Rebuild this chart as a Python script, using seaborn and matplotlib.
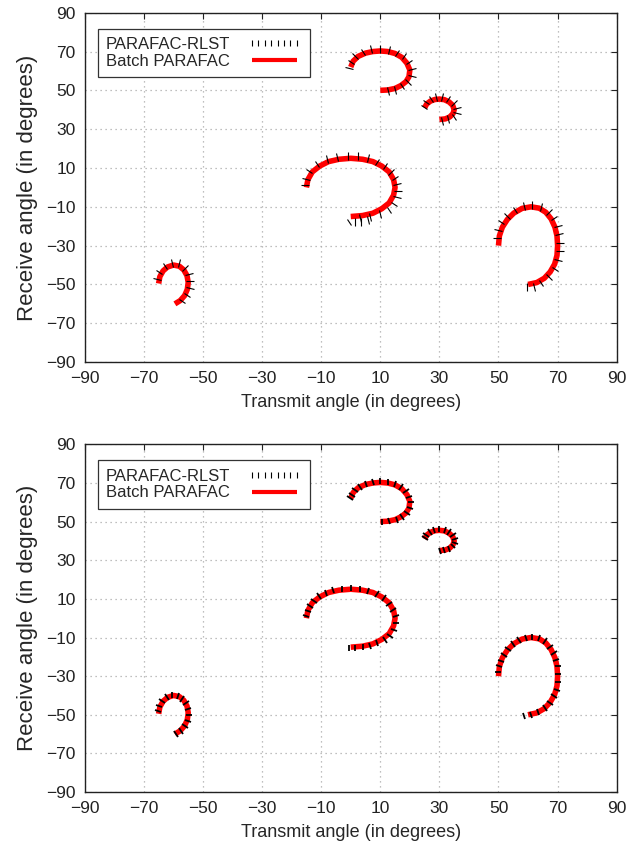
import numpy as np
import pandas as pd
import matplotlib
matplotlib.use("Agg")
import matplotlib.pyplot as plt
from matplotlib.lines import Line2D
from matplotlib.markers import MarkerStyle
from matplotlib.transforms import Affine2D
import seaborn as sns

sns.set_theme(style="white")
plt.rcParams['font.family'] = ['Liberation Sans', 'DejaVu Sans']

# batch PARAFAC trajectories (same in both panels)
batch_A_x = [-15, -14.5, -13, -10.5, -7.5, -4, 0, 4, 7.5, 10.5, 13, 14.5, 15, 14.5, 13, 10.5, 7.5, 4, 0]
batch_A_y = [0, 4, 8, 11, 13.3, 14.5, 15, 14.5, 13.3, 11, 8, 4, 0, -4, -8, -11, -13.3, -14.5, -15]
batch_B_x = [0, 0.8, 2.5, 5, 7.5, 10, 12.5, 15, 17.3, 19, 20, 19.7, 18.7, 17, 15, 12.5, 10]
batch_B_y = [62, 65, 67.5, 69.2, 70, 70.3, 70, 69, 67, 64, 60.5, 57, 54.5, 52.5, 51, 50.2, 50]
batch_C_x = [25, 25.7, 27, 28.5, 30, 31.7, 33.3, 34.5, 35, 34.6, 33.5, 32, 30]
batch_C_y = [41, 43, 44.5, 45.3, 45.5, 45.2, 44, 42.3, 40, 38, 36.3, 35.3, 35]
batch_D_x = [50, 50.3, 51.3, 53, 55.2, 58, 61, 63.8, 66, 67.8, 69.1, 69.8, 70, 69.8, 69, 67.5, 65.5, 63, 60]
batch_D_y = [-30, -25, -20.5, -16.5, -13.2, -10.8, -10, -10.7, -12.8, -16.2, -20.5, -25, -30, -35, -39.5, -43.5, -46.8, -49, -50]
batch_E_x = [-65, -64.6, -63.5, -62, -60, -58, -56.5, -55.4, -55, -55.3, -56.2, -57.7, -59.5]
batch_E_y = [-49.5, -46, -43, -41, -40, -40.6, -42.5, -45.5, -49, -52.5, -55.7, -58.3, -60]

# PARAFAC-RLST estimates, top panel
top_A_x = [-15.5, -15.2, -14, -11.5, -8, -4.5, -1, 2.5, 6, 9, 11.5, 13.5, 15, 15.8, 16, 15.8, 14.8, 13, 10, 6.5, 3, -0.5, 1.5, 3.5, 6]
top_A_y = [1, 4.5, 8.5, 12, 14.5, 15.8, 16.3, 16, 15, 13, 10.8, 8, 5, 1.5, -2, -5, -8.5, -11.5, -13.8, -15.3, -16, -17.8, -17.8, -17.8, -17]
top_B_x = [-0.5, 0, 1.5, 4, 7, 10, 13, 15.8, 18, 19.7, 20.7, 20.7, 19.5, 17.5, 15, 12.5]
top_B_y = [61.5, 64.5, 67.5, 70, 71.3, 71.5, 71, 69.5, 67.5, 64.5, 61, 57.5, 54.5, 52, 50.2, 49.5]
top_C_x = [24.8, 25.5, 27, 29, 31, 33, 34.8, 35.8, 35.8, 34.8, 33, 31]
top_C_y = [41.5, 43.8, 45.5, 46.5, 46.5, 45.5, 43.5, 41, 38.5, 36.3, 35, 34.3]
top_D_x = [49.6, 49.8, 51, 53, 55.5, 58.5, 61.5, 64.5, 67, 68.8, 70, 70.6, 70.8, 70.8, 70.3, 69, 67, 64.5, 62, 59.5]
top_D_y = [-26, -22, -18, -14.5, -11.5, -9.5, -9, -10, -12.5, -16, -20, -24, -28.5, -33, -37.5, -42, -46, -49.5, -51.2, -51.3]
top_E_x = [-65.5, -65, -63, -60.5, -58, -56, -54.8, -54.3, -54.5, -55.5, -57]
top_E_y = [-47, -43.5, -40.5, -39, -39.2, -41.5, -44.5, -48, -52, -55.5, -58.3]

# PARAFAC-RLST estimates, bottom panel
bot_A_x = [-15, -14.6, -13.8, -12.5, -10.8, -8.5, -6, -3, 0, 3, 6, 8.8, 11.2, 13, 14.3, 15.2, 15.3, 14.7, 13.3, 11.5, 9, 6.5, 4, 1.5, -0.5]
bot_A_y = [1, 3.5, 6.5, 9, 11.3, 13, 14.5, 15.3, 15.6, 15.2, 14.3, 12.5, 10.3, 7.5, 4.5, 1, -2.5, -6, -9, -11.3, -13, -14.2, -14.9, -15.2, -15.3]
bot_B_x = [-0.3, 0.5, 1.5, 3, 5, 7.5, 10, 12.5, 15, 17, 18.7, 19.8, 20.3, 20.1, 19.2, 17.5, 15.5, 13, 10.5]
bot_B_y = [62, 64, 66.3, 68, 69.5, 70.4, 70.8, 70.6, 69.7, 68, 65.8, 63, 60, 57, 54.5, 52.3, 51, 50.2, 49.8]
bot_C_x = [25, 25.6, 26.8, 28.3, 30, 31.8, 33.3, 34.5, 35.2, 35.2, 34.5, 33.3, 31.7, 30.2]
bot_C_y = [41.5, 43.3, 44.8, 45.6, 46, 45.7, 44.6, 43, 41, 39, 37.2, 36, 35.2, 34.8]
bot_D_x = [50, 50.2, 50.8, 51.8, 53.3, 55, 57, 59.2, 61.5, 63.8, 65.8, 67.5, 68.8, 69.6, 70.1, 70.3, 70.2, 69.7, 68.8, 67.5, 65.7, 63.5, 61, 58.5]
bot_D_y = [-28, -25, -22, -19, -16, -13.5, -11.5, -10.2, -9.6, -10.2, -12, -14.8, -18, -21.5, -25, -29, -33, -37, -40.5, -43.8, -46.7, -48.8, -50, -50.7]
bot_E_x = [-65.2, -64.8, -63.8, -62.3, -60.5, -58.5, -57, -55.8, -55, -54.8, -55.2, -56.2, -57.5, -59]
bot_E_y = [-48, -45.5, -43, -41, -40, -40.2, -41.6, -44, -47, -50, -53, -56, -58.3, -59.7]

batch = [(batch_A_x, batch_A_y), (batch_B_x, batch_B_y), (batch_C_x, batch_C_y),
         (batch_D_x, batch_D_y), (batch_E_x, batch_E_y)]
rlst_top = [(top_A_x, top_A_y), (top_B_x, top_B_y), (top_C_x, top_C_y),
            (top_D_x, top_D_y), (top_E_x, top_E_y)]
rlst_bot = [(bot_A_x, bot_A_y), (bot_B_x, bot_B_y), (bot_C_x, bot_C_y),
            (bot_D_x, bot_D_y), (bot_E_x, bot_E_y)]

ticks = np.arange(-90, 91, 20)

fig = plt.figure(figsize=(6.28, 8.48), dpi=100)
ax1 = fig.add_axes([0.135, 0.573, 0.847, 0.412])
ax2 = fig.add_axes([0.135, 0.066, 0.847, 0.410])


def draw_ticks(ax, xs, ys, size, mew):
    # short black marks across the path, like the original figure
    pts = ax.transData.transform(np.column_stack([xs, ys]))
    n = len(xs)
    for i in range(n):
        a = pts[max(i - 1, 0)]
        b = pts[min(i + 1, n - 1)]
        ang = np.degrees(np.arctan2(b[1] - a[1], b[0] - a[0]))
        m = MarkerStyle('|', transform=Affine2D().rotate_deg(ang))
        ax.plot(xs[i], ys[i], marker=m, color='black', markersize=size,
                markeredgewidth=mew, linestyle='none', zorder=4)


for ax, rlst, msize, mew in [(ax1, rlst_top, 5.5, 0.8), (ax2, rlst_bot, 5, 1.3)]:
    ax.set_xlim(-90, 90)
    ax.set_ylim(-90, 90)
    ax.set_xticks(ticks)
    ax.set_yticks(ticks)
    ax.grid(True, color='#aaaaaa', linestyle=(0, (1, 3)), linewidth=0.9)
    ax.tick_params(direction='in', length=4, width=0.8, labelsize=12.5,
                   top=True, right=True, pad=6.5, colors='#222222')
    for s in ax.spines.values():
        s.set_color('#222222')
        s.set_linewidth(1.0)
    for bx, by in batch:
        df = pd.DataFrame({'x': bx, 'y': by})
        sns.lineplot(data=df, x='x', y='y', sort=False, estimator=None,
                     color='#ff0000', linewidth=4.0, ax=ax, legend=False,
                     zorder=3, solid_capstyle='butt')
    for rx, ry in rlst:
        draw_ticks(ax, rx, ry, msize, mew)
    ax.set_xlabel('Transmit angle (in degrees)', fontsize=13, labelpad=6)
    ax.set_ylabel('Receive angle (in degrees)', fontsize=16, labelpad=6)

    h_rlst = Line2D([], [], color='black', marker='|', linestyle='none',
                    markersize=4.5, markeredgewidth=0.8)
    h_batch = Line2D([], [], color='#ff0000', linewidth=3,
                     solid_capstyle='butt')
    leg = ax.legend([h_rlst, h_batch], ['PARAFAC-RLST', 'Batch PARAFAC'],
                    loc='upper left', bbox_to_anchor=(0.024, 0.954),
                    borderaxespad=0, numpoints=8, markerfirst=False,
                    handlelength=3.3, fontsize=12, fancybox=False,
                    framealpha=1, edgecolor='#333333', labelspacing=0.1,
                    borderpad=0.5, handletextpad=1.0)
    leg.get_frame().set_linewidth(0.9)

fig.savefig('out.png', dpi=100)
